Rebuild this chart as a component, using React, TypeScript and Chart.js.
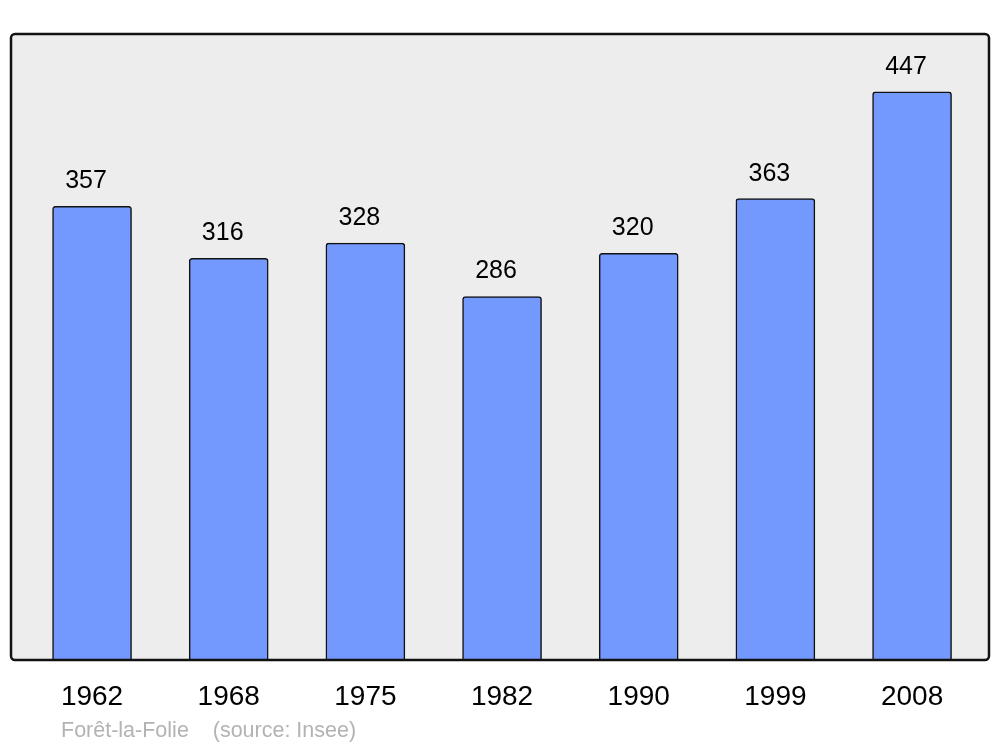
import React, { useEffect, useRef } from "react";
import { Chart, registerables } from "chart.js";

Chart.register(...registerables);

const years = ["1962", "1968", "1975", "1982", "1990", "1999", "2008"];
const population = [357, 316, 328, 286, 320, 363, 447];
const footerText = "Forêt-la-Folie    (source: Insee)";

const FONT = "'Liberation Sans', Arial, sans-serif";

const plotBox = {
  id: "plotBox",
  beforeDatasetsDraw(chart: any) {
    const { ctx, chartArea: a } = chart;
    ctx.save();
    ctx.beginPath();
    ctx.roundRect(a.left, a.top, a.right - a.left, a.bottom - a.top, 4);
    ctx.fillStyle = "#ededed";
    ctx.fill();
    ctx.restore();
  },
  afterDatasetsDraw(chart: any) {
    const { ctx, chartArea: a } = chart;
    ctx.save();
    ctx.beginPath();
    ctx.roundRect(a.left, a.top, a.right - a.left, a.bottom - a.top, 4);
    ctx.lineWidth = 2.5;
    ctx.strokeStyle = "#111";
    ctx.stroke();
    // value labels
    const meta = chart.getDatasetMeta(0);
    ctx.fillStyle = "#000";
    ctx.font = `25px ${FONT}`;
    ctx.textAlign = "center";
    ctx.textBaseline = "alphabetic";
    meta.data.forEach((bar: any, i: number) => {
      ctx.fillText(String(population[i]), bar.x - 6, bar.y - 18);
    });
    // footer
    ctx.fillStyle = "#b3b3b3";
    ctx.font = `21.5px ${FONT}`;
    ctx.textAlign = "left";
    ctx.fillText(footerText, 61, 737);
    ctx.restore();
  },
};

export default function App() {
  const ref = useRef<HTMLCanvasElement>(null);
  useEffect(() => {
    if (!ref.current) return;
    const chart = new Chart(ref.current, {
      type: "bar",
      data: {
        datasets: [
          {
            data: population.map((v, i) => ({ x: i, y: v })),
            backgroundColor: "#7399ff",
            borderColor: "#111",
            borderWidth: 1.5,
            borderRadius: 3,
            borderSkipped: "bottom",
            barThickness: 79,
          },
        ],
      },
      plugins: [plotBox],
      options: {
        animation: false,
        responsive: false,
        maintainAspectRatio: false,
        layout: { padding: { left: 11, right: 11, top: 34, bottom: 27 } },
        plugins: {
          legend: { display: false },
          tooltip: { enabled: false },
        },
        scales: {
          x: {
            type: "linear",
            offset: false,
            min: -0.593,
            max: 6.563,
            grid: { display: false, drawTicks: false, offset: false },
            border: { display: false },
            afterBuildTicks: (scale: any) => {
              scale.ticks = years.map((_, i) => ({ value: i }));
            },
            afterFit: (scale: any) => {
              scale.height = 60;
            },
            ticks: {
              padding: 20,
              color: "#000",
              font: { size: 28, family: FONT },
              maxRotation: 0,
              autoSkip: false,
              callback: (v: any) => years[Math.round(Number(v))] ?? "",
            },
          },
          y: {
            display: false,
            min: 0,
            max: 492.5,
          },
        },
      },
    });
    return () => chart.destroy();
  }, []);
  return (
    <div style={{ position: "absolute", left: 0, top: 0, width: 1000, height: 747 }}>
      <canvas ref={ref} width={1000} height={747} style={{ width: 1000, height: 747 }} />
    </div>
  );
}
